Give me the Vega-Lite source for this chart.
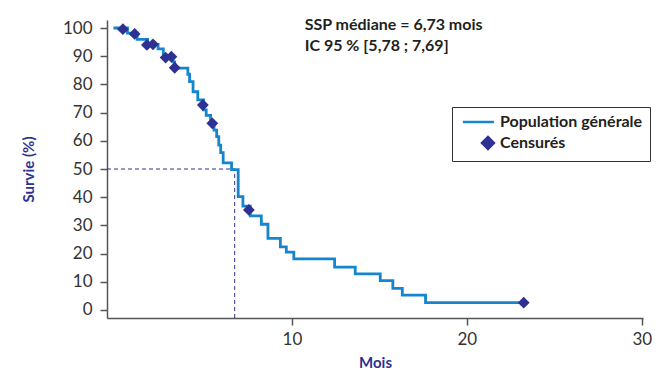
{
  "$schema": "https://vega.github.io/schema/vega-lite/v6.json",
  "width": 536,
  "height": 298,
  "autosize": "none",
  "padding": {"left": 107, "top": 20, "right": 26, "bottom": 52},
  "background": "white",
  "config": {
    "view": {"stroke": null},
    "font": "Lato",
    "axis": {
      "domainColor": "#555555",
      "domainWidth": 1.5,
      "tickColor": "#555555",
      "tickWidth": 1.5,
      "tickSize": 7,
      "grid": false,
      "labelFont": "Lato",
      "labelFontSize": 17,
      "labelColor": "#333333",
      "titleFont": "Lato",
      "titleFontSize": 15,
      "titleFontWeight": "bold",
      "titleColor": "#2e3192"
    },
    "legend": {
      "orient": "none",
      "legendX": 345,
      "legendY": 87,
      "strokeColor": "#333333",
      "padding": 7,
      "labelFont": "Lato",
      "labelFontSize": 16,
      "labelFontWeight": "bold",
      "labelColor": "#231f20",
      "rowPadding": 2,
      "symbolSize": 140,
      "symbolStrokeWidth": 2.5,
      "symbolOffset": 21,
      "labelOffset": 4
    }
  },
  "encoding": {
    "x": {
      "field": "x",
      "type": "quantitative",
      "scale": {"domain": [-0.57, 30.07], "nice": false, "zero": false},
      "axis": {"values": [10, 20, 30], "title": "Mois", "labelPadding": 6, "titlePadding": 8}
    },
    "y": {
      "field": "y",
      "type": "quantitative",
      "scale": {"domain": [-2.84, 102.84], "nice": false, "zero": false},
      "axis": {"values": [0, 10, 20, 30, 40, 50, 60, 70, 80, 90, 100], "title": "Survie (%)", "labelPadding": 8, "titlePadding": 26}
    }
  },
  "layer": [
    {
      "data": {"values": [
        {"x": -0.57, "y": 50, "x2": 6.73, "y2": 50},
        {"x": 6.73, "y": -2.84, "x2": 6.73, "y2": 50}
      ]},
      "mark": {"type": "rule", "color": "#2e3192", "strokeWidth": 1, "strokeDash": [4, 3]},
      "encoding": {
        "x2": {"field": "x2"},
        "y2": {"field": "y2"}
      }
    },
    {
      "data": {"values": [
        {"x": -0.2, "y": 100, "serie": "Population générale"},
        {"x": 0.6, "y": 98.2, "serie": "Population générale"},
        {"x": 1.15, "y": 96.0, "serie": "Population générale"},
        {"x": 1.75, "y": 94.2, "serie": "Population générale"},
        {"x": 2.35, "y": 92.6, "serie": "Population générale"},
        {"x": 2.65, "y": 89.8, "serie": "Population générale"},
        {"x": 3.2, "y": 88.0, "serie": "Population générale"},
        {"x": 3.3, "y": 85.8, "serie": "Population générale"},
        {"x": 4.05, "y": 83.6, "serie": "Population générale"},
        {"x": 4.15, "y": 81.0, "serie": "Population générale"},
        {"x": 4.35, "y": 77.4, "serie": "Population générale"},
        {"x": 4.62, "y": 74.5, "serie": "Population générale"},
        {"x": 4.95, "y": 71.0, "serie": "Population générale"},
        {"x": 5.1, "y": 69.0, "serie": "Population générale"},
        {"x": 5.35, "y": 66.5, "serie": "Population générale"},
        {"x": 5.55, "y": 63.8, "serie": "Population générale"},
        {"x": 5.7, "y": 61.5, "serie": "Population générale"},
        {"x": 5.82, "y": 58.5, "serie": "Population générale"},
        {"x": 5.93, "y": 55.8, "serie": "Population générale"},
        {"x": 6.07, "y": 52.2, "serie": "Population générale"},
        {"x": 6.55, "y": 49.8, "serie": "Population générale"},
        {"x": 6.93, "y": 40.2, "serie": "Population générale"},
        {"x": 7.2, "y": 36.8, "serie": "Population générale"},
        {"x": 7.62, "y": 33.4, "serie": "Population générale"},
        {"x": 8.25, "y": 30.4, "serie": "Population générale"},
        {"x": 8.63, "y": 25.4, "serie": "Population générale"},
        {"x": 9.34, "y": 22.4, "serie": "Population générale"},
        {"x": 9.68, "y": 20.5, "serie": "Population générale"},
        {"x": 10.11, "y": 18.1, "serie": "Population générale"},
        {"x": 12.44, "y": 15.2, "serie": "Population générale"},
        {"x": 13.62, "y": 12.8, "serie": "Population générale"},
        {"x": 15.05, "y": 10.4, "serie": "Population générale"},
        {"x": 15.77, "y": 7.7, "serie": "Population générale"},
        {"x": 16.31, "y": 5.3, "serie": "Population générale"},
        {"x": 17.64, "y": 2.6, "serie": "Population générale"},
        {"x": 23.25, "y": 2.6, "serie": "Population générale"}
      ]},
      "mark": {"type": "line", "interpolate": "step-after", "strokeWidth": 2.8},
      "encoding": {
        "color": {
          "field": "serie",
          "type": "nominal",
          "scale": {"domain": ["Population générale", "Censurés"], "range": ["#1585cc", "#2e3192"]},
          "legend": {
            "title": null,
            "encode": {
              "symbols": {
                "update": {
                  "stroke": [
                    {"test": "datum.value === 'Population générale'", "value": "#1585cc"},
                    {"value": "transparent"}
                  ]
                }
              }
            }
          }
        }
      }
    },
    {
      "data": {"values": [
        {"x": 0.34, "y": 99.6, "serie": "Censurés"},
        {"x": 1.01, "y": 97.9, "serie": "Censurés"},
        {"x": 1.71, "y": 94.0, "serie": "Censurés"},
        {"x": 2.06, "y": 94.2, "serie": "Censurés"},
        {"x": 2.78, "y": 89.5, "serie": "Censurés"},
        {"x": 3.11, "y": 89.8, "serie": "Censurés"},
        {"x": 3.30, "y": 85.9, "serie": "Censurés"},
        {"x": 4.91, "y": 72.7, "serie": "Censurés"},
        {"x": 5.45, "y": 66.2, "serie": "Censurés"},
        {"x": 7.54, "y": 35.5, "serie": "Censurés"},
        {"x": 23.25, "y": 2.6, "serie": "Censurés"}
      ]},
      "mark": {"type": "point", "filled": true, "opacity": 1, "size": 140},
      "encoding": {
        "color": {
          "field": "serie",
          "type": "nominal",
          "scale": {"domain": ["Population générale", "Censurés"], "range": ["#1585cc", "#2e3192"]},
          "legend": {"title": null}
        },
        "shape": {
          "field": "serie",
          "type": "nominal",
          "scale": {"domain": ["Population générale", "Censurés"], "range": ["M-4.25,0H1", "diamond"]},
          "legend": {"title": null}
        }
      }
    },
    {
      "data": {"values": [
        {"x": 10.73, "y": 101.0, "label": "SSP médiane = 6,73 mois"},
        {"x": 10.73, "y": 93.5, "label": "IC 95 % [5,78 ; 7,69]"}
      ]},
      "mark": {"type": "text", "align": "left", "baseline": "middle", "font": "Lato", "fontSize": 16, "fontWeight": "bold", "color": "#231f20"},
      "encoding": {
        "text": {"field": "label"}
      }
    }
  ]
}
